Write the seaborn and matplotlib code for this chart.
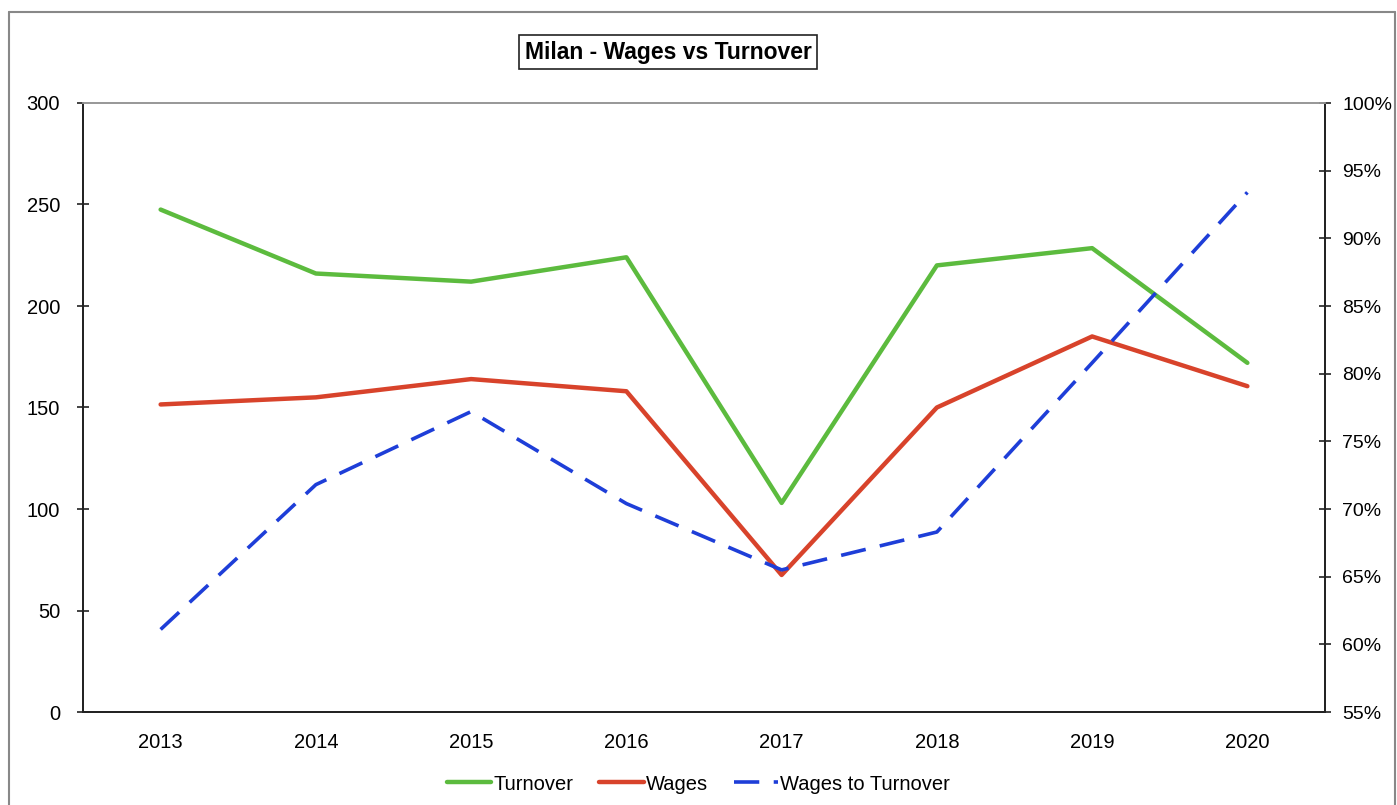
import seaborn as sns
import pandas as pd
import matplotlib
matplotlib.use("Agg")
from matplotlib import pyplot as plt
from matplotlib.lines import Line2D
from matplotlib.ticker import FuncFormatter

years = ["2013", "2014", "2015", "2016", "2017", "2018", "2019", "2020"]
turnover = [247.5, 216, 212, 224, 103, 220, 228.5, 172]
wages = [151.5, 155, 164, 158, 67.5, 150, 185, 160.5]
wages_to_turnover = [61.1, 71.8, 77.2, 70.4, 65.5, 68.3, 80.8, 93.4]

left_ticks = [0, 50, 100, 150, 200, 250, 300]
right_ticks = [55, 60, 65, 70, 75, 80, 85, 90, 95, 100]

df = pd.DataFrame({"year": years, "Turnover": turnover, "Wages": wages,
                   "Wages to Turnover": wages_to_turnover})
df["x"] = range(len(years))

sns.set_style("white")
plt.rcParams["font.family"] = ["Liberation Sans", "DejaVu Sans"]
plt.rcParams["text.color"] = "black"
plt.rcParams["xtick.color"] = "black"
plt.rcParams["ytick.color"] = "black"

green = "#5cbb3e"
red = "#d8432b"
blue = "#1e3ed8"

fig = plt.figure(figsize=(13.97, 8.05), dpi=100)
ax = fig.add_axes([83 / 1397, 1 - 712 / 805, (1325 - 83) / 1397, (712 - 103) / 805])
ax2 = ax.twinx()

sns.lineplot(ax=ax, data=df, x="x", y="Turnover", color=green, linewidth=3.2)
sns.lineplot(ax=ax, data=df, x="x", y="Wages", color=red, linewidth=3.2)
sns.lineplot(ax=ax2, data=df, x="x", y="Wages to Turnover", color=blue,
             linewidth=2.6, dashes=False, linestyle=(0, (7, 4)))

ax.set_xlim(-0.5, len(years) - 0.5)
ax.set_ylim(0, 300)
ax2.set_ylim(55, 100)
ax.set_yticks(left_ticks)
ax2.set_yticks(right_ticks)
ax2.yaxis.set_major_formatter(FuncFormatter(lambda v, p: f"{v:.0f}%"))

# category labels centred, tick marks between categories
ax.set_xticks(range(len(years)))
ax.set_xticklabels(years)
ax.set_xticks([i + 0.5 for i in range(len(years) - 1)], minor=True)
ax.tick_params(axis="x", which="major", length=0, pad=15, labelsize=14.5)
ax.tick_params(axis="x", which="minor", length=9, width=1.2, direction="inout", color="#222222")
ax.tick_params(axis="y", length=9, width=1.2, direction="inout", pad=12, labelsize=14.5, color="#222222")
ax2.tick_params(axis="y", length=9, width=1.2, direction="inout", pad=8, labelsize=14, color="#222222")
ax.set_xlabel("")
ax.set_ylabel("")
ax2.set_ylabel("")

for a in (ax, ax2):
    a.grid(False)
    for s in ["left", "bottom", "right"]:
        a.spines[s].set_color("#222222")
        a.spines[s].set_linewidth(1.3)
    a.spines["top"].set_color("#999999")
    a.spines["top"].set_linewidth(1.3)
ax.patch.set_visible(False)

fig.text(668 / 1397, 1 - 52 / 805, "Milan - Wages vs Turnover", ha="center", va="center",
         fontsize=16.5, fontweight="bold",
         bbox=dict(boxstyle="square,pad=0.25", facecolor="white", edgecolor="#222222", linewidth=1.2))

handles = [Line2D([0], [0], color=green, linewidth=3.2),
           Line2D([0], [0], color=red, linewidth=3.2),
           Line2D([0], [0], color=blue, linewidth=2.6, linestyle=(0, (7, 4)))]
fig.legend(handles, ["Turnover", "Wages", "Wages to Turnover"], loc="center",
           bbox_to_anchor=(0.5, 1 - 784 / 805), ncol=3, frameon=False, fontsize=14.5,
           handlelength=2.2, handletextpad=0.1, columnspacing=1.3)

# outer frame
fr = "#888888"
fig.add_artist(Line2D([9 / 1397, 9 / 1397], [0, 1 - 12 / 805], color=fr, lw=1.5, transform=fig.transFigure))
fig.add_artist(Line2D([9 / 1397, 1395 / 1397], [1 - 12 / 805, 1 - 12 / 805], color=fr, lw=1.5, transform=fig.transFigure))
fig.add_artist(Line2D([1395 / 1397, 1395 / 1397], [0, 1 - 12 / 805], color=fr, lw=1.5, transform=fig.transFigure))

fig.savefig("out.png", dpi=100)
